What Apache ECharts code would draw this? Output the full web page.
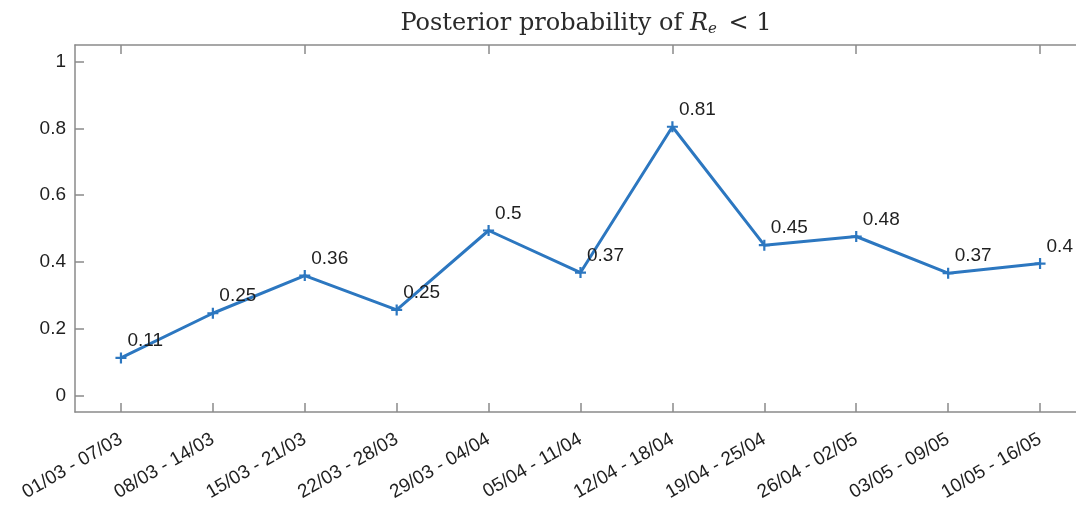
<!DOCTYPE html>
<html>
<head>
<meta charset="utf-8">
<title>Posterior probability of Re &lt; 1</title>
<script src="https://cdn.jsdelivr.net/npm/echarts@6/dist/echarts.min.js"></script>
<style>
  html, body { margin: 0; padding: 0; background: #fff; }
  #chart { width: 1076px; height: 505px; }
</style>
</head>
<body>
<div id="chart"></div>
<script>
// weekly periods
var weeks = ['01/03 - 07/03', '08/03 - 14/03', '15/03 - 21/03', '22/03 - 28/03',
  '29/03 - 04/04', '05/04 - 11/04', '12/04 - 18/04', '19/04 - 25/04',
  '26/04 - 02/05', '03/05 - 09/05', '10/05 - 16/05']
// probability that Re < 1
var probRe = [0.112, 0.246, 0.359, 0.256, 0.494, 0.368, 0.805, 0.45, 0.476, 0.366, 0.395]
// the rounded numbers printed next to each point
var pointLabels = ['0.11', '0.25', '0.36', '0.25', '0.5', '0.37', '0.81', '0.45', '0.48', '0.37', '0.4']

var axisGrey = '#8a8a8a'
var textDark = '#1f1f1f'
var lineBlue = '#2c77c0'
var plusMark = 'path://M4,0H6V4H10V6H6V10H4V6H0V4H4Z'

var chart = echarts.init(document.getElementById('chart'))

var boxAxis = {
  axisLine: { show: true, onZero: false, lineStyle: { color: axisGrey, width: 1.5 } },
  axisTick: { show: true, inside: true, length: 9, lineStyle: { color: axisGrey, width: 1.5 } }
}

var option = {
  backgroundColor: '#fff',
  animation: false,
  title: {
    text: '{a|Posterior probability of }{i|R}{s|e}{a| < 1}',
    left: 581,
    top: 6,
    textAlign: 'center',
    textStyle: {
      rich: {
        a: { fontFamily: 'DejaVu Serif', fontWeight: 'normal', fontSize: 24, color: '#2a2a2a' },
        i: { fontFamily: 'DejaVu Serif', fontWeight: 'normal', fontStyle: 'italic', fontSize: 24, color: '#2a2a2a' },
        s: { fontFamily: 'DejaVu Serif', fontWeight: 'normal', fontStyle: 'italic', fontSize: 15, color: '#2a2a2a', padding: [11, 4, 0, 0] }
      }
    }
  },
  grid: {
    left: 75,
    right: -10,
    top: 45,
    bottom: 93,
    outerBoundsMode: 'none'
  },
  xAxis: [
    {
      type: 'category',
      data: weeks,
      position: 'bottom',
      boundaryGap: true,
      axisLine: boxAxis.axisLine,
      axisTick: Object.assign({ alignWithLabel: true }, boxAxis.axisTick),
      axisLabel: {
        rotate: 30,
        margin: 26,
        fontFamily: 'Liberation Sans',
        fontSize: 19,
        color: textDark,
        interval: 0
      }
    },
    {
      type: 'category',
      data: weeks,
      position: 'top',
      boundaryGap: true,
      axisLine: boxAxis.axisLine,
      axisTick: Object.assign({ alignWithLabel: true }, boxAxis.axisTick),
      axisLabel: { show: false }
    }
  ],
  yAxis: [
    {
      type: 'value',
      position: 'left',
      min: -0.05,
      max: 1.05,
      splitNumber: 5,
      splitLine: { show: false },
      axisLine: boxAxis.axisLine,
      axisTick: boxAxis.axisTick,
      axisLabel: {
        showMinLabel: false,
        showMaxLabel: false,
        margin: 9,
        fontFamily: 'Liberation Sans',
        fontSize: 19,
        color: textDark
      }
    },
    {
      type: 'value',
      position: 'right',
      min: -0.05,
      max: 1.05,
      splitNumber: 5,
      splitLine: { show: false },
      axisLine: boxAxis.axisLine,
      axisTick: boxAxis.axisTick,
      axisLabel: { show: false }
    }
  ],
  series: [
    {
      name: 'P(Re < 1)',
      type: 'line',
      data: probRe,
      symbol: plusMark,
      symbolSize: 11,
      showAllSymbol: true,
      lineStyle: { color: lineBlue, width: 3 },
      itemStyle: { color: lineBlue },
      label: {
        show: true,
        position: 'right',
        distance: 1,
        offset: [0, -17],
        fontFamily: 'Liberation Sans',
        fontSize: 19,
        color: textDark,
        formatter: function (p) {
          return pointLabels[p.dataIndex]
        }
      }
    }
  ]
}

chart.setOption(option)
</script>
</body>
</html>
